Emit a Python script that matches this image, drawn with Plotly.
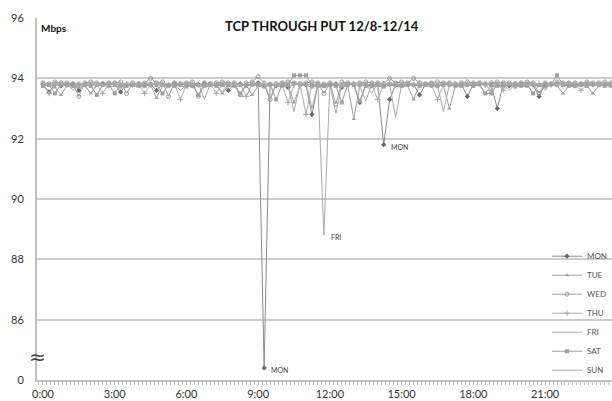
import plotly.graph_objects as go

# 15-minute samples, 0:00 .. 23:45 (hours)
hours = [i / 4 for i in range(96)]
tick_hours = [0, 3, 6, 9, 12, 15, 18, 21]
tick_labels = ["0:00", "3:00", "6:00", "9:00", "12:00", "15:00", "18:00", "21:00"]
y_ticks = [84, 86, 88, 90, 92, 94, 96]
y_tick_labels = ["0", "86", "88", "90", "92", "94", "96"]

mon = [93.8, 93.55, 93.8, 93.75, 93.8, 93.82, 93.6, 93.8, 93.78, 93.8, 93.82, 93.8,
       93.8, 93.55, 93.8, 93.78, 93.82, 93.8, 93.8, 93.6, 93.8, 93.78, 93.82, 93.8,
       93.8, 93.75, 93.8, 93.82, 93.8, 93.78, 93.8, 93.6, 93.8, 93.82, 93.78, 93.8,
       93.85, 84.4, 93.8, 93.75, 93.8, 93.7, 93.82, 93.8, 93.78, 92.8, 93.8, 93.75,
       93.8, 93.82, 93.7, 93.8, 93.8, 93.2, 93.8, 93.75, 93.8, 91.8, 93.3, 93.8,
       93.78, 93.8, 93.8, 93.45, 93.8, 93.82, 93.75, 93.8, 93.8, 93.78, 93.8, 93.4,
       93.8, 93.82, 93.8, 93.78, 93.0, 93.8, 93.75, 93.8, 93.82, 93.8, 93.78, 93.4,
       93.8, 93.8, 93.82, 93.78, 93.8, 93.75, 93.8, 93.82, 93.8, 93.78, 93.8, 93.8]
tue = [93.78, 93.75, 93.7, 93.45, 93.75, 93.78, 93.7, 93.75, 93.5, 93.75, 93.78, 93.72,
       93.75, 93.7, 93.78, 93.75, 93.72, 93.75, 93.78, 93.35, 93.75, 93.72, 93.78, 93.75,
       93.7, 93.78, 93.75, 93.72, 93.75, 93.78, 93.5, 93.75, 93.72, 93.75, 93.78, 93.45,
       93.75, 93.7, 93.78, 93.75, 93.72, 93.75, 93.2, 93.75, 93.78, 93.7, 93.75, 93.72,
       93.75, 93.78, 93.72, 93.75, 92.65, 93.75, 93.78, 93.72, 93.75, 93.7, 93.78, 93.75,
       93.72, 93.75, 93.3, 93.78, 93.75, 93.72, 93.78, 93.75, 93.0, 93.75, 93.72, 93.78,
       93.75, 93.78, 93.5, 93.75, 93.72, 93.75, 93.78, 93.7, 93.75, 93.72, 93.78, 93.75,
       93.7, 93.78, 93.75, 93.5, 93.75, 93.72, 93.78, 93.75, 93.5, 93.75, 93.78, 93.72]
wed = [93.85, 93.82, 93.88, 93.85, 93.85, 93.82, 93.4, 93.85, 93.88, 93.85, 93.82, 93.85,
       93.85, 93.88, 93.5, 93.85, 93.82, 93.85, 94.0, 93.85, 93.88, 93.4, 93.85, 93.82,
       93.85, 93.88, 93.4, 93.85, 93.82, 93.85, 93.88, 93.85, 93.85, 93.45, 93.85, 93.88,
       94.05, 93.85, 93.3, 93.82, 93.85, 93.88, 93.85, 93.82, 93.85, 93.88, 93.85, 93.5,
       93.85, 93.15, 93.88, 93.85, 93.82, 93.85, 93.88, 93.85, 93.85, 93.82, 94.0, 93.85,
       93.88, 93.85, 94.0, 93.85, 93.82, 93.85, 93.88, 93.85, 93.85, 93.82, 93.85, 93.88,
       93.85, 93.85, 93.82, 93.85, 93.88, 93.85, 93.85, 93.82, 93.85, 93.88, 93.85, 93.5,
       93.85, 93.82, 93.88, 93.85, 93.85, 93.85, 93.82, 93.88, 93.85, 93.85, 93.88, 93.85]
thu = [93.8, 93.5, 93.82, 93.78, 93.8, 93.78, 93.82, 93.8, 93.78, 93.8, 93.5, 93.82,
       93.8, 93.78, 93.82, 93.8, 93.8, 93.5, 93.78, 93.82, 93.8, 93.78, 93.8, 93.3,
       93.8, 93.82, 93.78, 93.8, 93.82, 93.5, 93.8, 93.78, 93.8, 93.82, 93.4, 93.8,
       93.78, 93.8, 93.82, 93.8, 93.8, 93.2, 93.78, 93.82, 92.8, 93.8, 93.78, 93.8,
       93.82, 93.8, 93.78, 93.8, 93.8, 93.82, 93.78, 93.8, 93.3, 93.8, 93.82, 93.78,
       93.8, 93.8, 93.78, 93.82, 93.8, 93.78, 93.3, 93.8, 93.82, 93.8, 93.78, 93.8,
       93.8, 93.82, 93.78, 93.6, 93.8, 93.6, 93.8, 93.82, 93.78, 93.8, 93.8, 93.82,
       93.8, 93.78, 93.8, 93.8, 93.82, 93.8, 93.6, 93.78, 93.8, 93.82, 93.8, 93.78]
fri = [93.8, 93.78, 93.75, 93.8, 93.78, 93.8, 93.8, 93.75, 93.5, 93.8, 93.78, 93.8,
       93.8, 93.75, 93.8, 93.78, 93.8, 93.8, 93.78, 93.8, 93.75, 93.8, 93.8, 93.6,
       93.8, 93.78, 93.8, 93.75, 93.8, 93.8, 93.55, 93.8, 93.78, 93.8, 93.8, 93.75,
       93.8, 93.78, 93.3, 93.8, 93.8, 93.75, 92.9, 93.8, 93.78, 93.8, 93.8, 88.8,
       93.8, 92.85, 93.78, 93.8, 93.8, 93.75, 93.25, 93.8, 93.8, 93.78, 93.8, 92.7,
       93.8, 93.75, 93.8, 93.78, 93.8, 93.8, 93.78, 92.9, 93.8, 93.78, 93.8, 93.75,
       93.8, 93.8, 93.78, 93.8, 93.75, 93.8, 93.6, 93.8, 93.8, 93.78, 93.8, 93.8,
       93.78, 93.8, 93.75, 93.8, 93.8, 93.78, 93.8, 93.8, 93.75, 93.8, 93.8, 93.78]
sat = [93.75, 93.78, 93.5, 93.8, 93.78, 93.75, 93.8, 93.78, 93.75, 93.45, 93.78, 93.8,
       93.5, 93.78, 93.75, 93.8, 93.78, 93.75, 93.8, 93.78, 93.5, 93.78, 93.75, 93.8,
       93.78, 93.75, 93.45, 93.78, 93.8, 93.75, 93.78, 93.8, 93.78, 93.5, 93.75, 93.8,
       93.78, 93.75, 93.8, 93.3, 93.78, 93.8, 94.1, 94.1, 94.1, 93.78, 93.75, 93.8,
       93.78, 93.75, 93.2, 93.8, 93.78, 93.25, 93.75, 93.8, 93.78, 93.75, 93.8, 93.78,
       93.75, 93.8, 93.78, 93.75, 93.8, 93.78, 93.75, 93.8, 93.78, 93.75, 93.8, 93.78,
       93.75, 93.8, 93.5, 93.5, 93.78, 93.75, 93.8, 93.78, 93.75, 93.8, 93.5, 93.78,
       93.75, 93.8, 94.1, 93.78, 93.75, 93.8, 93.78, 93.75, 93.8, 93.78, 93.75, 93.8]
sun = [93.82, 93.85, 93.8, 93.82, 93.85, 93.6, 93.82, 93.8, 93.85, 93.82, 93.8, 93.85,
       93.82, 93.8, 93.85, 93.82, 93.8, 93.85, 93.82, 93.8, 93.85, 93.82, 93.8, 93.85,
       93.82, 93.8, 93.85, 93.3, 93.82, 93.8, 93.85, 93.82, 93.8, 93.4, 93.4, 93.82,
       93.85, 93.8, 93.3, 93.82, 93.8, 93.85, 93.82, 93.8, 93.85, 93.0, 93.82, 93.8,
       93.85, 93.82, 93.8, 93.85, 93.82, 93.8, 93.85, 93.5, 93.82, 93.8, 93.85, 93.82,
       93.8, 93.85, 93.82, 93.8, 93.85, 93.82, 93.8, 93.85, 93.82, 93.8, 93.85, 93.82,
       93.8, 93.85, 93.82, 93.8, 93.85, 93.82, 93.8, 93.85, 93.82, 93.8, 93.85, 93.82,
       93.6, 93.85, 93.82, 93.8, 93.85, 93.82, 93.8, 93.85, 93.82, 93.8, 93.85, 93.82]

series = [
    ("MON", mon, "#8c8c8c", dict(symbol="diamond", size=4, color="#666666")),
    ("TUE", tue, "#a0a0a0", dict(symbol="triangle-up", size=4, color="#a0a0a0")),
    ("WED", wed, "#a0a0a0", dict(symbol="circle-open", size=4, color="#9a9a9a", line=dict(width=1))),
    ("THU", thu, "#b0b0b0", dict(symbol="cross-thin", size=4, color="#a8a8a8", line=dict(width=1, color="#a8a8a8"))),
    ("FRI", fri, "#aaaaaa", None),
    ("SAT", sat, "#9c9c9c", dict(symbol="square", size=4, color="#a0a0a0")),
    ("SUN", sun, "#acacac", None),
]

fig = go.Figure()
for name, vals, col, mk in series:
    if mk is None:
        fig.add_trace(go.Scatter(x=hours, y=vals, name=name, mode="lines",
                                 line=dict(color=col, width=1)))
    else:
        fig.add_trace(go.Scatter(x=hours, y=vals, name=name, mode="lines+markers",
                                 line=dict(color=col, width=1), marker=mk))

# point labels at notable dips
def label_point(vals, i, text):
    fig.add_annotation(x=hours[i], y=vals[i], text=text, showarrow=False,
                       xanchor="left", xshift=5, yshift=-2,
                       font=dict(size=7, color="#444444"))

label_point(mon, mon.index(min(mon)), "MON")
label_point(fri, fri.index(min(fri)), "FRI")
label_point(mon, hours.index(14.25), "MON")

fig.update_layout(
    width=612, height=401,
    margin=dict(l=37, r=0, t=18, b=21),
    paper_bgcolor="white", plot_bgcolor="white",
    font=dict(family="Lato, Open Sans, sans-serif", color="#333"),
    showlegend=True,
    legend=dict(x=1.0, xanchor="right", y=0.382, yanchor="top",
                font=dict(size=8, color="#555"), bgcolor="rgba(0,0,0,0)",
                itemwidth=30, tracegroupgap=0),
)

fig.add_annotation(x=0.496, y=1.0, xref="paper", yref="paper", yshift=2,
                   text="<b>TCP THROUGH PUT 12/8-12/14</b>", showarrow=False,
                   xanchor="center", yanchor="top", font=dict(size=13, color="#111"))
fig.add_annotation(x=0.004, y=1.0, xref="paper", yref="paper", yshift=-2,
                   text="<b>Mbps</b>", showarrow=False, xanchor="left", yanchor="top",
                   font=dict(size=10, color="#111"))
fig.add_annotation(x=0, y=84.75, xref="paper", yref="y", xanchor="center", text="≈",
                   showarrow=False, font=dict(family="DejaVu Sans", size=20, color="#444"))

fig.update_xaxes(range=[-0.25, 23.8], tickvals=tick_hours, ticktext=tick_labels,
                 showgrid=False, zeroline=False, showline=True, linecolor="#c0c0c0",
                 linewidth=1.5, ticks="outside", ticklen=3, tickcolor="#c0c0c0",
                 minor=dict(dtick=1/6, ticks="outside", ticklen=3, tickcolor="#c0c0c0"),
                 tickfont=dict(size=11, color="#333"))
fig.update_yaxes(range=[84, 96], tickvals=y_ticks, ticktext=y_tick_labels,
                 showgrid=True, gridcolor="#cccccc", gridwidth=1.5, zeroline=False,
                 showline=True, linecolor="#c0c0c0", linewidth=2,
                 ticks="", ticklabelstandoff=9, tickfont=dict(size=11, color="#333"))

fig.write_html("out.html")
